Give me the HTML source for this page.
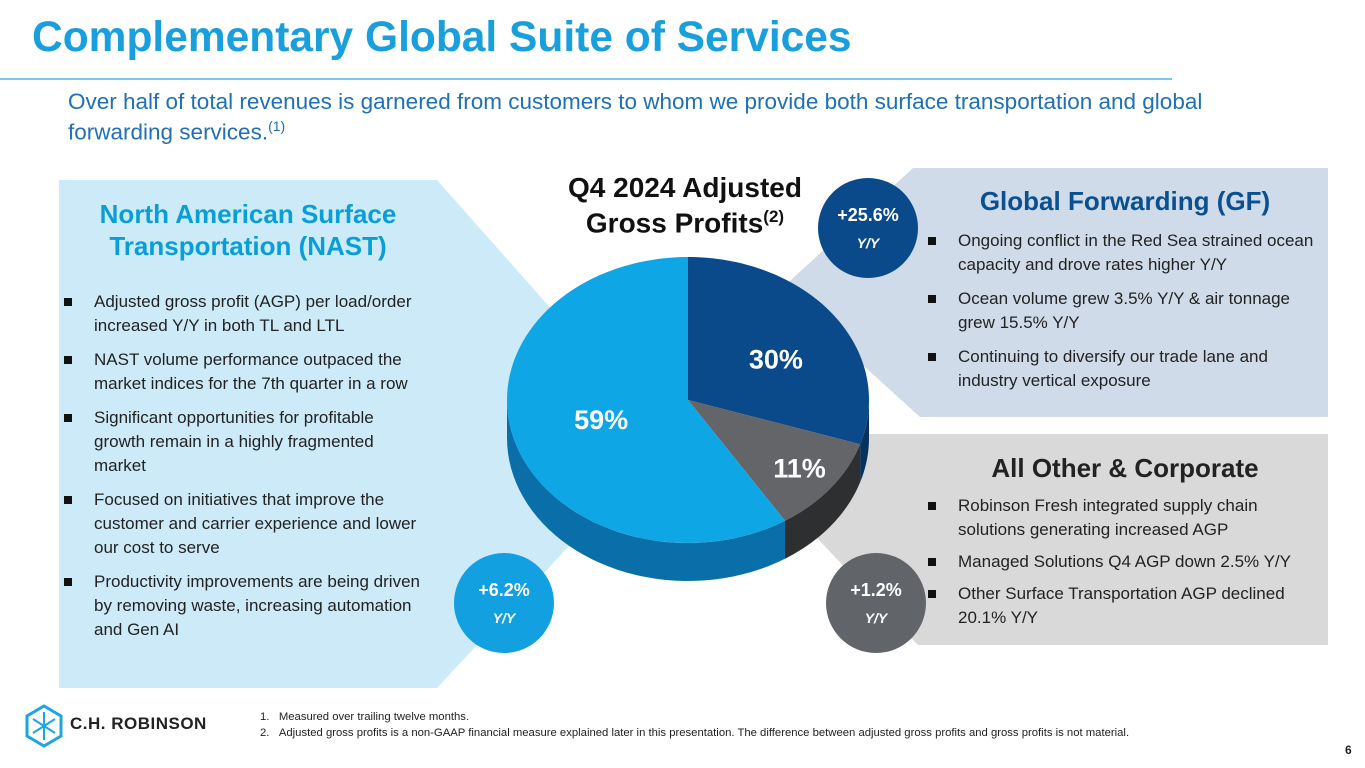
<!DOCTYPE html>
<html><head><meta charset="utf-8">
<style>
*{margin:0;padding:0;box-sizing:border-box}
body{width:1365px;height:768px;overflow:hidden;background:#fff;font-family:"Liberation Sans",Arial,sans-serif;position:relative}
.abs{position:absolute}
.h{font-weight:bold;font-size:26px;line-height:32px;text-align:center}
ul{list-style:none}
li{position:relative;padding-left:32px;font-size:17px;line-height:24px;color:#222;margin-bottom:10px}
li:before{content:"";position:absolute;left:2px;top:8px;width:8px;height:8px;background:#111}
.circ{position:absolute;width:100px;height:100px;border-radius:50%;color:#fff;text-align:center;font-weight:bold}
.circ b{display:block;font-size:18px;margin-top:27px}
.circ i{display:block;font-size:14px;margin-top:9px;font-weight:bold}
</style></head><body>
<div class="abs" style="left:32px;top:14px;font-size:42.5px;font-weight:bold;color:#1a9fde">Complementary Global Suite of Services</div>
<div class="abs" style="left:0;top:78px;width:1172px;height:2px;background:#7cc7ea"></div>
<div class="abs" style="left:68px;top:90px;width:1185px;font-size:22.5px;line-height:24px;color:#2070b8">Over half of total revenues is garnered from customers to whom we provide both surface transportation and global forwarding services.<sup style="font-size:14px">(1)</sup></div>

<svg class="abs" style="left:0;top:0" width="1365" height="768">
<polygon points="59,180 437,180 570,330 570,545 437,688 59,688" fill="#cdeaf8"/>
<polygon points="913,168 1328,168 1328,417 920,417 780,290" fill="#cfdbe8"/>
<polygon points="867,434 1328,434 1328,645 918,645 800,520" fill="#d9d9d9"/>
<g id="pie"></g>
</svg>

<div class="abs" style="left:540px;top:173px;width:290px;text-align:center;font-size:28px;font-weight:bold;line-height:29px;color:#111">Q4 2024 Adjusted<br>Gross Profits<sup style="font-size:17px">(2)</sup></div>

<div class="abs h" style="left:59px;top:198px;width:378px;color:#0a9ed9">North American Surface<br>Transportation (NAST)</div>
<ul class="abs" style="left:62px;top:290px;width:362px">
<li>Adjusted gross profit (AGP) per load/order increased Y/Y in both TL and LTL</li>
<li>NAST volume performance outpaced the market indices for the 7th quarter in a row</li>
<li>Significant opportunities for profitable growth remain in a highly fragmented market</li>
<li>Focused on initiatives that improve the customer and carrier experience and lower our cost to serve</li>
<li>Productivity improvements are being driven by removing waste, increasing automation and Gen AI</li>
</ul>

<div class="abs h" style="left:922px;top:185px;width:406px;color:#0a4f8f">Global Forwarding (GF)</div>
<ul class="abs" style="left:926px;top:229px;width:398px">
<li>Ongoing conflict in the Red Sea strained ocean capacity and drove rates higher Y/Y</li>
<li>Ocean volume grew 3.5% Y/Y &amp; air tonnage grew 15.5% Y/Y</li>
<li>Continuing to diversify our trade lane and industry vertical exposure</li>
</ul>

<div class="abs h" style="left:922px;top:452px;width:406px;color:#222">All Other &amp; Corporate</div>
<ul class="abs" style="left:926px;top:494px;width:398px">
<li style="margin-bottom:8px">Robinson Fresh integrated supply chain solutions generating increased AGP</li>
<li style="margin-bottom:8px">Managed Solutions Q4 AGP down 2.5% Y/Y</li>
<li>Other Surface Transportation AGP declined 20.1% Y/Y</li>
</ul>

<div class="circ" style="left:818px;top:178px;background:#0a4a8a"><b>+25.6%</b><i>Y/Y</i></div>
<div class="circ" style="left:454px;top:553px;background:#12a0e0"><b>+6.2%</b><i>Y/Y</i></div>
<div class="circ" style="left:826px;top:553px;background:#616569"><b>+1.2%</b><i>Y/Y</i></div>

<svg class="abs" style="left:24px;top:704px" width="40" height="44" viewBox="0 0 40 44">
<polygon points="20,2 37,12 37,32 20,42 3,32 3,12" fill="none" stroke="#1ea6e0" stroke-width="3"/>
<path d="M20,8 V36 M9,15 L31,29 M31,15 L9,29" stroke="#1ea6e0" stroke-width="2" fill="none"/>
</svg>
<div class="abs" style="left:70px;top:714px;font-size:17px;font-weight:bold;letter-spacing:0.5px;color:#222">C.H. ROBINSON</div>
<div class="abs" style="left:260px;top:709px;font-size:11.3px;line-height:16px;color:#222">
<div>1.&nbsp;&nbsp;&nbsp;Measured over trailing twelve months.</div>
<div>2.&nbsp;&nbsp;&nbsp;Adjusted gross profits is a non-GAAP financial measure explained later in this presentation. The difference between adjusted gross profits and gross profits is not material.</div>
</div>
<div class="abs" style="left:1345px;top:743px;font-size:12px;font-weight:bold;color:#222">6</div>

<script>
const categories=["Global Forwarding","All Other & Corporate","NAST"];
const shares=[30,11,59];
const labels=["30%","11%","59%"];
const colors=["#0a4a8a","#636569","#0fa6e6"];
const sideColors=["#08325e","#2d2f31","#0a6fa8"];
const cx=688,cy=400,rx=181,ry=143,depth=38;
const g=document.getElementById('pie');
const NS="http://www.w3.org/2000/svg";
function pt(t,dy){return [cx+rx*Math.sin(t),cy-ry*Math.cos(t)+(dy||0)];}
const total=shares.reduce((a,b)=>a+b,0);
let a=0;const angs=[];
shares.forEach(v=>{const b=a+v/total*2*Math.PI;angs.push([a,b]);a=b;});
angs.forEach(([s,e],i)=>{
  const s2=Math.max(s,Math.PI/2),e2=Math.min(e,3*Math.PI/2);
  if(e2<=s2)return;
  let d="";const n=40;
  for(let k=0;k<=n;k++){const p=pt(s2+(e2-s2)*k/n);d+=(k?"L":"M")+p[0]+","+p[1];}
  for(let k=n;k>=0;k--){const p=pt(s2+(e2-s2)*k/n,depth);d+="L"+p[0]+","+p[1];}
  const el=document.createElementNS(NS,"path");
  
  
  el.setAttribute("d",d+"Z");el.setAttribute("fill",sideColors[i]);g.appendChild(el);
});
angs.forEach(([s,e],i)=>{
  let d="M"+cx+","+cy;const n=80;
  for(let k=0;k<=n;k++){const p=pt(s+(e-s)*k/n);d+="L"+p[0]+","+p[1];}
  const el=document.createElementNS(NS,"path");
  
  
  el.setAttribute("d",d+"Z");el.setAttribute("fill",colors[i]);g.appendChild(el);
  const m=(s+e)/2,r=i==2?0.5:(i==1?0.78:0.6);
  const tx=cx+rx*r*Math.sin(m),ty=cy-ry*r*Math.cos(m);
  const t=document.createElementNS(NS,"text");
  
  
  t.setAttribute("x",tx);t.setAttribute("y",ty+9+(i==0?10:0));t.setAttribute("text-anchor","middle");
  t.setAttribute("fill","#fff");t.setAttribute("font-size","27");t.setAttribute("font-weight","bold");
  t.setAttribute("font-family","Liberation Sans, sans-serif");t.textContent=labels[i];g.appendChild(t);
});
</script>
</body></html>
